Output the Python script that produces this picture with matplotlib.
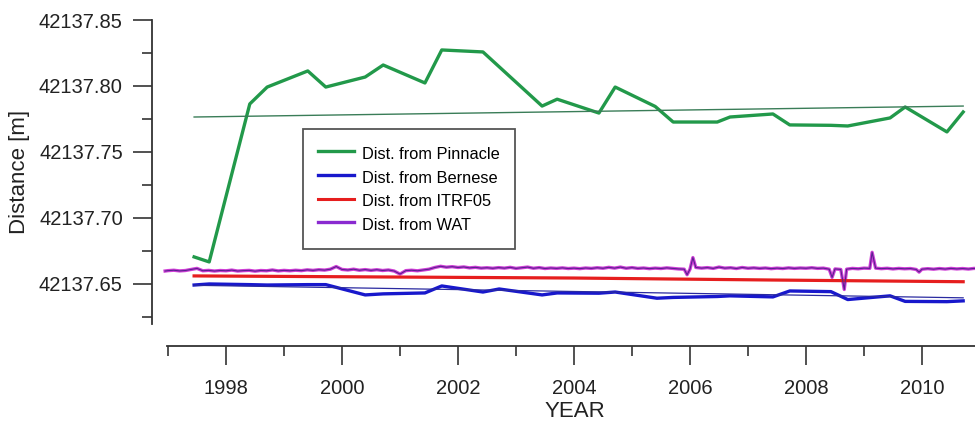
import numpy as np
import matplotlib
matplotlib.use("Agg")
import matplotlib.pyplot as plt
from matplotlib.lines import Line2D

plt.rcParams['font.family'] = ['Liberation Sans', 'DejaVu Sans']

# Distances are stored as the part above 42137 m
BASE = 42137.0

# Pinnacle solutions (two campaigns a year)
pinnacle_years = [1997.45, 1997.71, 1998.41, 1998.71, 1999.41, 1999.72, 2000.40, 2000.71,
                  2001.43, 2001.72, 2002.43, 2003.45, 2003.71, 2004.43, 2004.71, 2005.40,
                  2005.71, 2006.47, 2006.69, 2007.43, 2007.72, 2008.43, 2008.72, 2009.45,
                  2009.71, 2010.43, 2010.71]
pinnacle_dist = [0.6705, 0.6667, 0.7864, 0.7992, 0.8114, 0.7992, 0.8068, 0.8159,
                 0.8023, 0.8273, 0.8258, 0.7848, 0.7900, 0.7795, 0.7992, 0.7845,
                 0.7727, 0.7727, 0.7765, 0.7788, 0.7705, 0.7702, 0.7697, 0.7758,
                 0.7841, 0.7652, 0.7803]
pinnacle_trend_years = [1997.45, 2010.71]
pinnacle_trend = [0.7765, 0.7848]

# Bernese solutions
bernese_years = [1997.45, 1997.71, 1998.41, 1998.71, 1999.41, 1999.72, 2000.40, 2000.71,
                 2001.43, 2001.72, 2002.43, 2002.71, 2003.45, 2003.71, 2004.43, 2004.71,
                 2005.43, 2005.71, 2006.47, 2006.69, 2007.43, 2007.72, 2008.43, 2008.72,
                 2009.45, 2009.71, 2010.43, 2010.71]
bernese_dist = [0.6492, 0.6500, 0.6495, 0.6492, 0.6495, 0.6495, 0.6417, 0.6425,
                0.6432, 0.6485, 0.6439, 0.6462, 0.6417, 0.6432, 0.6430, 0.6439,
                0.6392, 0.6398, 0.6405, 0.6410, 0.6402, 0.6447, 0.6442, 0.6382,
                0.6410, 0.6368, 0.6366, 0.6372]
bernese_trend_years = [1997.45, 2010.71]
bernese_trend = [0.6490, 0.6395]

# ITRF05 coordinates
itrf_years = [1997.45, 2004.00, 2007.40, 2010.71]
itrf_dist = [0.6561, 0.6545, 0.6530, 0.6517]

# WAT daily solutions (thinned)
wat_years = [1996.95, 1997.0, 1997.1, 1997.2, 1997.3, 1997.4, 1997.5, 1997.6, 1997.7, 1997.8,
             1997.9, 1998.0, 1998.1, 1998.2, 1998.3, 1998.4, 1998.5, 1998.6, 1998.7, 1998.8,
             1998.9, 1999.0, 1999.1, 1999.2, 1999.3, 1999.4, 1999.5, 1999.6, 1999.7, 1999.8,
             1999.9, 2000.0, 2000.1, 2000.2, 2000.3, 2000.4, 2000.5, 2000.6, 2000.7, 2000.8,
             2000.9, 2001.0, 2001.1, 2001.2, 2001.3, 2001.4, 2001.5, 2001.6, 2001.7, 2001.8,
             2001.9, 2002.0, 2002.1, 2002.2, 2002.3, 2002.4, 2002.5, 2002.6, 2002.7, 2002.8,
             2002.9, 2003.0, 2003.1, 2003.2, 2003.3, 2003.4, 2003.5, 2003.6, 2003.7, 2003.8,
             2003.9, 2004.0, 2004.1, 2004.2, 2004.3, 2004.4, 2004.5, 2004.6, 2004.7, 2004.8,
             2004.9, 2005.0, 2005.1, 2005.2, 2005.3, 2005.4, 2005.5, 2005.6, 2005.7, 2005.8,
             2005.9, 2005.95, 2006.0, 2006.05, 2006.1, 2006.2, 2006.3, 2006.4, 2006.5, 2006.6,
             2006.7, 2006.8, 2006.9, 2007.0, 2007.1, 2007.2, 2007.3, 2007.4, 2007.5, 2007.6,
             2007.7, 2007.8, 2007.9, 2008.0, 2008.1, 2008.2, 2008.3, 2008.4, 2008.45, 2008.5,
             2008.6, 2008.66, 2008.7, 2008.8, 2008.9, 2009.0, 2009.1, 2009.14, 2009.2, 2009.3,
             2009.4, 2009.5, 2009.6, 2009.7, 2009.8, 2009.9, 2009.95, 2010.0, 2010.1, 2010.2,
             2010.3, 2010.4, 2010.5, 2010.6, 2010.7, 2010.8, 2010.9, 2010.95]
wat_dist = [0.6598, 0.6601, 0.6604, 0.6599, 0.6602, 0.6610, 0.6618, 0.6600, 0.6603, 0.6598,
            0.6602, 0.6600, 0.6605, 0.6598, 0.6601, 0.6603, 0.6597, 0.6602, 0.6600, 0.6606,
            0.6599, 0.6603, 0.6600, 0.6604, 0.6601, 0.6607, 0.6603, 0.6608, 0.6605, 0.6612,
            0.6632, 0.6610, 0.6606, 0.6612, 0.6604, 0.6609, 0.6603, 0.6608, 0.6602, 0.6606,
            0.6598, 0.6575, 0.6601, 0.6604, 0.6600, 0.6606, 0.6612, 0.6625, 0.6634, 0.6627,
            0.6631, 0.6625, 0.6629, 0.6622, 0.6626, 0.6620, 0.6623, 0.6619, 0.6624, 0.6620,
            0.6626, 0.6618, 0.6623, 0.6628, 0.6619, 0.6624, 0.6617, 0.6621, 0.6618, 0.6622,
            0.6617, 0.6620, 0.6616, 0.6621, 0.6618, 0.6623, 0.6619, 0.6626, 0.6620, 0.6628,
            0.6619, 0.6624, 0.6618, 0.6621, 0.6616, 0.6620, 0.6617, 0.6622, 0.6618, 0.6614,
            0.6612, 0.6570, 0.6612, 0.6700, 0.6625, 0.6620, 0.6624, 0.6618, 0.6628, 0.6620,
            0.6623, 0.6617, 0.6625, 0.6619, 0.6622, 0.6618, 0.6621, 0.6616, 0.6620, 0.6617,
            0.6622, 0.6618, 0.6621, 0.6619, 0.6623, 0.6618, 0.6620, 0.6612, 0.6550, 0.6614,
            0.6610, 0.6458, 0.6612, 0.6618, 0.6615, 0.6620, 0.6618, 0.6740, 0.6620, 0.6616,
            0.6619, 0.6614, 0.6618, 0.6615, 0.6617, 0.6610, 0.6590, 0.6612, 0.6616, 0.6612,
            0.6617, 0.6613, 0.6618, 0.6614, 0.6617, 0.6613, 0.6618, 0.6616]

legend_labels = ["Dist. from Pinnacle", "Dist. from Bernese", "Dist. from ITRF05", "Dist. from WAT"]

GREEN = '#22994a'
BLUE = '#1818cc'
RED = '#e61e1e'
MAGENTA = '#cf3fd6'
PURPLE = '#5a2190'
AXIS = '#333333'


def shift(vals):
    return BASE + np.array(vals)


fig = plt.figure(figsize=(9.75, 4.24), dpi=100)
ax = fig.add_axes([152 / 975, 78 / 424, 823 / 975, 326 / 424])

ax.plot(wat_years, shift(wat_dist), color=MAGENTA, lw=2.4, zorder=2)
ax.plot(wat_years, shift(wat_dist), color=PURPLE, lw=0.8, zorder=3)
ax.plot(itrf_years, shift(itrf_dist), color=RED, lw=2.3, zorder=2)
ax.plot(bernese_years, shift(bernese_dist), color=BLUE, lw=2.4, zorder=2)
ax.plot(bernese_trend_years, shift(bernese_trend), color='#2a2aa0', lw=0.9, zorder=3)
ax.plot(pinnacle_years, shift(pinnacle_dist), color=GREEN, lw=2.4, zorder=2)
ax.plot(pinnacle_trend_years, shift(pinnacle_trend), color='#3a7d58', lw=1.0, zorder=3)

ax.set_xlim(1996.724, 2010.914)
ax.set_ylim(BASE + 0.603, BASE + 0.85)

# detached axes, Grapher style
for side in ['top', 'right']:
    ax.spines[side].set_visible(False)
ax.spines['left'].set_bounds(BASE + 0.62, BASE + 0.85)
ax.spines['bottom'].set_bounds(1996.98, 2010.914)
for side in ['left', 'bottom']:
    ax.spines[side].set_color(AXIS)
    ax.spines[side].set_linewidth(1.3)

ax.set_yticks(BASE + np.array([0.65, 0.70, 0.75, 0.80, 0.85]))
ax.set_yticks(BASE + np.array([0.625, 0.675, 0.725, 0.775, 0.825]), minor=True)
ax.set_yticklabels(["42137.65", "42137.70", "42137.75", "42137.80", "42137.85"])
ax.set_xticks([1998, 2000, 2002, 2004, 2006, 2008, 2010])
ax.set_xticks([1997, 1999, 2001, 2003, 2005, 2007, 2009], minor=True)
ax.tick_params(which='major', direction='out', length=14, width=1.2, color=AXIS,
               labelsize=14.5, labelcolor='#222222')
ax.tick_params(which='minor', direction='out', length=7, width=1.2, color=AXIS)
ax.tick_params(axis='y', pad=7)
ax.tick_params(axis='x', pad=10)

ax.set_ylabel("Distance [m]", fontsize=16, color='#222222', va='center')
ax.yaxis.set_label_coords((20 - 152) / 823, (346 - 172) / 326)
ax.set_xlabel("YEAR", fontsize=16, color='#222222', va='top')
ax.xaxis.set_label_coords((575 - 152) / 823, (346 - 401) / 326)

handles = [Line2D([], [], color=GREEN, lw=2.4),
           Line2D([], [], color=BLUE, lw=2.4),
           Line2D([], [], color=RED, lw=2.2),
           Line2D([], [], color='#8a2ad0', lw=2.4)]
leg = ax.legend(handles, legend_labels, loc='upper left',
                bbox_to_anchor=((303 - 152) / 823, (346 - 129) / 326),
                borderaxespad=0, fontsize=11.8, fancybox=False, framealpha=1,
                edgecolor='#555555', handlelength=2.2, handletextpad=0.5,
                handleheight=1.5, labelspacing=0.22, borderpad=0.9)
leg.get_frame().set_linewidth(1.3)

fig.savefig("out.png", dpi=100)
